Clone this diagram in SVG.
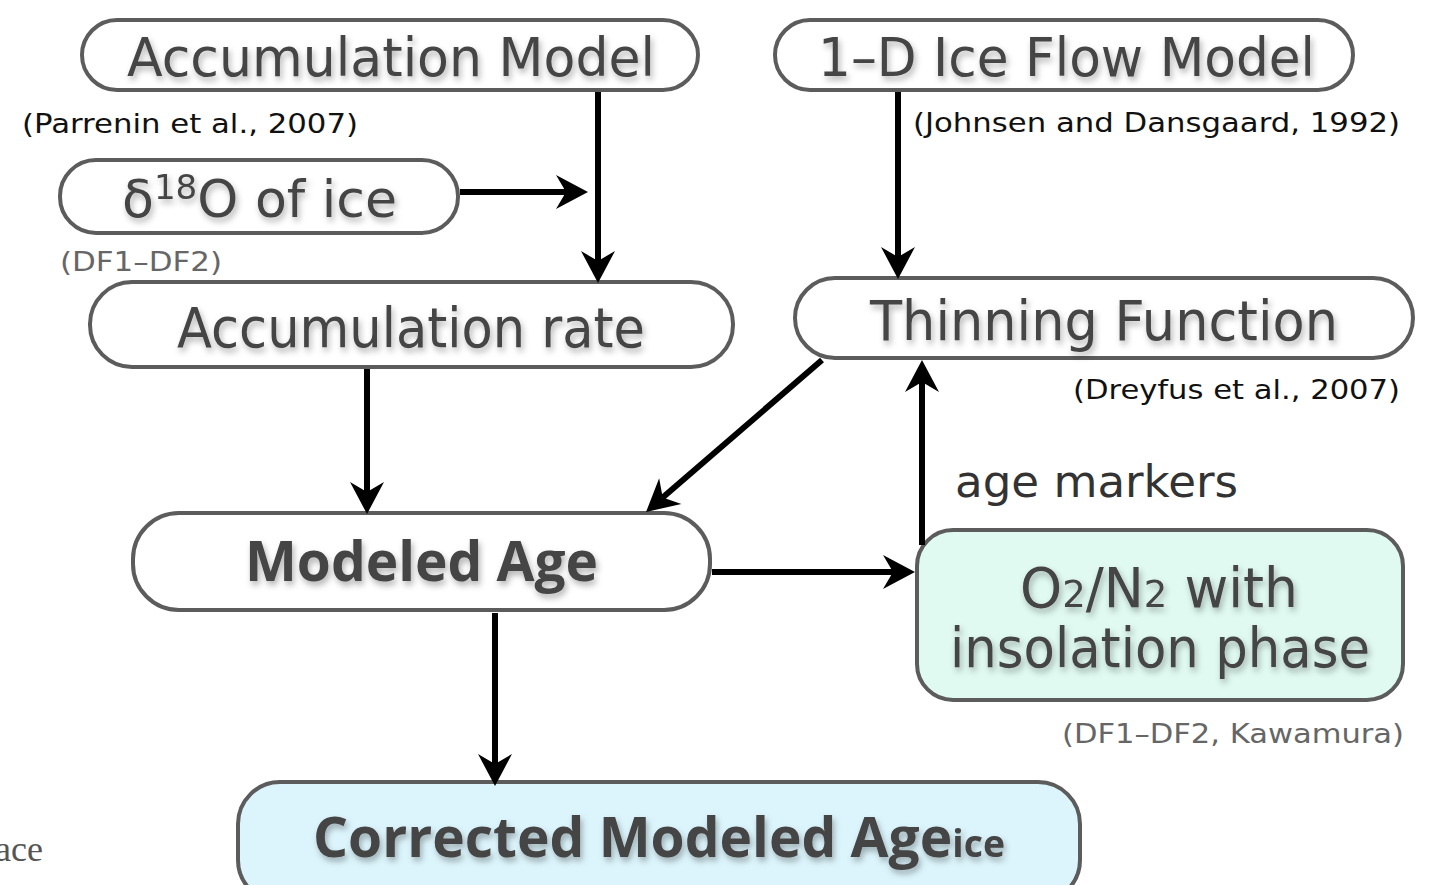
<svg xmlns="http://www.w3.org/2000/svg" width="1441" height="885" viewBox="0 0 1441 885">
<style>
.node{fill:#fff;stroke:#5c5c5c;stroke-width:4}
.t{font-family:"DejaVu Sans","Open Sans",sans-serif;fill:#444;filter:url(#sh)}
.tb{font-family:"Open Sans","DejaVu Sans",sans-serif;font-weight:bold;fill:#444;filter:url(#sh)}
.lab{font-family:"DejaVu Sans","Open Sans",sans-serif;font-size:27px;fill:#111}
.labg{font-family:"DejaVu Sans","Open Sans",sans-serif;font-size:27px;fill:#666}
.con line{stroke:#000;stroke-width:6;marker-end:url(#ah)}
</style>
<defs>
<filter id="sh" x="-10%" y="-30%" width="120%" height="160%">
<feDropShadow dx="2" dy="4" stdDeviation="3" flood-color="#000" flood-opacity="0.3"/>
</filter>
<marker id="ah" markerUnits="userSpaceOnUse" markerWidth="40" markerHeight="40" viewBox="-34 -20 40 40" refX="-22" refY="0" orient="auto">
<path d="M0,0 L-32,-17 L-22,0 L-32,17 Z" fill="#000"/>
</marker>
</defs>
<rect width="1441" height="885" fill="#fff"/>

<g id="accumulation-model">
<rect class="node" x="82" y="20" width="616" height="70" rx="35"/>
<text class="t" x="127" y="76" font-size="54" textLength="528" lengthAdjust="spacingAndGlyphs">Accumulation Model</text>
</g>
<g id="ice-flow-model">
<rect class="node" x="775" y="20" width="578" height="70" rx="35"/>
<text class="t" x="818" y="76" font-size="54" textLength="497" lengthAdjust="spacingAndGlyphs">1–D Ice Flow Model</text>
</g>
<g id="d18o">
<rect class="node" x="60" y="160" width="398" height="73" rx="36"/>
<text class="t" x="122" y="217" font-size="52" textLength="275" lengthAdjust="spacingAndGlyphs">δ<tspan font-size="34" dy="-18">18</tspan><tspan dy="18">O of ice</tspan></text>
</g>
<g id="accumulation-rate">
<rect class="node" x="90" y="282" width="643" height="85" rx="42"/>
<text class="t" x="177" y="347" font-size="55" textLength="468" lengthAdjust="spacingAndGlyphs">Accumulation rate</text>
</g>
<g id="thinning-function">
<rect class="node" x="795" y="278" width="618" height="80" rx="40"/>
<text class="t" x="870" y="340" font-size="55" textLength="468" lengthAdjust="spacingAndGlyphs">Thinning Function</text>
</g>
<g id="modeled-age">
<rect class="node" x="133" y="513" width="577" height="97" rx="46"/>
<text class="tb" x="245" y="581" font-size="55" textLength="353" lengthAdjust="spacingAndGlyphs">Modeled Age</text>
</g>
<g id="o2n2">
<rect class="node" x="917" y="530" width="486" height="170" rx="36" style="fill:#e0faf1"/>
<text class="t" x="1020" y="607" font-size="55" textLength="278" lengthAdjust="spacingAndGlyphs">O<tspan font-size="38">2</tspan>/N<tspan font-size="38">2</tspan> with</text>
<text class="t" x="950" y="667" font-size="55" textLength="420" lengthAdjust="spacingAndGlyphs">insolation phase</text>
</g>
<g id="corrected-age">
<rect class="node" x="238" y="782" width="842" height="120" rx="42" style="fill:#dcf5fc"/>
<text class="tb" x="313" y="857" font-size="56" textLength="692" lengthAdjust="spacingAndGlyphs">Corrected Modeled Age<tspan font-size="38">ice</tspan></text>
</g>

<g id="labels">
<text class="lab" x="22" y="133" textLength="336" lengthAdjust="spacingAndGlyphs">(Parrenin et al., 2007)</text>
<text class="labg" x="60" y="271" textLength="162" lengthAdjust="spacingAndGlyphs">(DF1–DF2)</text>
<text class="lab" x="913" y="132" textLength="487" lengthAdjust="spacingAndGlyphs">(Johnsen and Dansgaard, 1992)</text>
<text class="lab" x="1073" y="399" textLength="327" lengthAdjust="spacingAndGlyphs">(Dreyfus et al., 2007)</text>
<text x="955" y="497" font-family="DejaVu Sans, Open Sans, sans-serif" font-size="44" fill="#333" textLength="283" lengthAdjust="spacingAndGlyphs">age markers</text>
<text class="labg" x="1062" y="743" textLength="342" lengthAdjust="spacingAndGlyphs">(DF1–DF2, Kawamura)</text>
<text x="-5" y="861" font-family="Liberation Serif, serif" font-size="36" fill="#555">ace</text>
</g>

<g id="connectors" class="con">
<line x1="598" y1="92" x2="598" y2="261"/>
<line x1="460" y1="192" x2="566" y2="192"/>
<line x1="898" y1="92" x2="898" y2="257"/>
<line x1="367" y1="369" x2="367" y2="492"/>
<line x1="822" y1="360" x2="662.7" y2="497.6"/>
<line x1="712" y1="572" x2="893" y2="572"/>
<line x1="922" y1="545" x2="922" y2="382"/>
<line x1="495" y1="613" x2="495" y2="764"/>
</g>
</svg>
